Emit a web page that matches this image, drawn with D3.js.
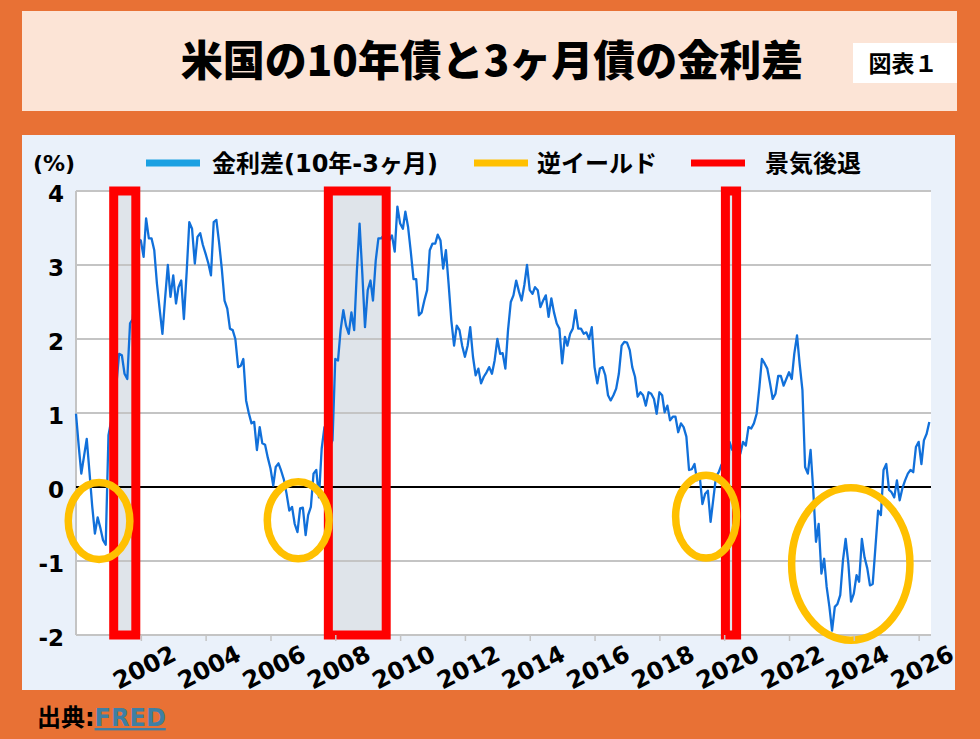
<!DOCTYPE html>
<html>
<head>
<meta charset="utf-8">
<script src="https://cdn.jsdelivr.net/npm/d3@7"></script>
<style>
body { margin: 0; background: #E87135; }
svg { display: block; }
</style>
</head>
<body>
<svg></svg>
<script>
const width = 980;
const height = 739;

// monthly spread 10Y - 3M (%), starting Jan 2000, one row per year
const startYear = 2000;
const spread = [
    0.99, 0.55, 0.18, 0.42, 0.65, 0.20, -0.25, -0.63, -0.41, -0.55, -0.72, -0.78,
    0.70, 0.90, 1.10, 1.40, 1.80, 1.78, 1.53, 1.46, 2.21, 2.27, 2.75, 3.35,
    3.33, 3.11, 3.63, 3.36, 3.36, 3.20, 2.75, 2.40, 2.07, 2.55, 3.00, 2.57,
    2.86, 2.48, 2.70, 2.79, 2.27, 2.90, 3.58, 3.49, 3.02, 3.38, 3.43, 3.27,
    3.15, 3.02, 2.86, 3.58, 3.61, 3.30, 2.95, 2.52, 2.41, 2.14, 2.12, 2.00,
    1.62, 1.64, 1.73, 1.17, 1.00, 0.86, 0.88, 0.50, 0.81, 0.59, 0.57, 0.40,
    0.25, 0.02, 0.27, 0.32, 0.22, 0.10, -0.09, -0.32, -0.27, -0.50, -0.61, -0.29,
    -0.28, -0.65, -0.38, -0.27, 0.18, 0.23, -0.14, 0.52, 0.81, 0.65, 0.55, 0.63,
    1.73, 1.71, 2.12, 2.39, 2.18, 2.07, 2.36, 2.12, 2.93, 3.56, 2.88, 2.16,
    2.66, 2.79, 2.52, 3.06, 3.36, 3.36, 3.40, 3.30, 3.33, 3.40, 3.18, 3.79,
    3.56, 3.49, 3.72, 3.51, 3.18, 2.81, 2.81, 2.32, 2.36, 2.52, 2.66, 3.20,
    3.29, 3.29, 3.41, 3.33, 2.95, 3.20, 2.75, 2.25, 1.91, 2.18, 2.12, 1.91,
    1.76, 1.91, 2.16, 1.76, 1.51, 1.60, 1.40, 1.49, 1.55, 1.62, 1.53, 1.71,
    2.00, 1.80, 1.81, 1.60, 2.12, 2.50, 2.59, 2.79, 2.64, 2.52, 2.73, 3.00,
    2.66, 2.61, 2.70, 2.66, 2.43, 2.52, 2.59, 2.30, 2.55, 2.36, 2.21, 2.14,
    1.67, 2.03, 1.91, 2.07, 2.14, 2.39, 2.14, 2.14, 2.07, 2.09, 2.00, 2.16,
    1.62, 1.40, 1.60, 1.62, 1.51, 1.24, 1.17, 1.24, 1.33, 1.53, 1.91, 1.96,
    1.95, 1.85, 1.62, 1.49, 1.22, 1.28, 1.24, 1.10, 1.28, 1.26, 1.19, 0.99,
    1.28, 1.24, 1.01, 1.10, 0.90, 0.95, 0.95, 0.74, 0.86, 0.81, 0.68, 0.23,
    0.24, 0.31, 0.09, 0.14, -0.23, -0.09, -0.05, -0.47, -0.16, 0.14, 0.20, 0.30,
    0.15, -0.18, 0.61, 0.50, 0.55, 0.55, 0.45, 0.61, 0.56, 0.81, 0.79, 0.86,
    0.99, 1.35, 1.73, 1.67, 1.60, 1.40, 1.19, 1.26, 1.50, 1.50, 1.37, 1.46,
    1.55, 1.46, 1.80, 2.05, 1.66, 1.31, 0.27, 0.18, 0.50, -0.05, -0.74, -0.50,
    -1.17, -0.97, -1.35, -1.62, -1.94, -1.62, -1.58, -1.46, -0.99, -0.70, -1.04, -1.55,
    -1.44, -1.19, -1.28, -0.70, -0.95, -1.10, -1.33, -1.31, -0.81, -0.32, -0.38, 0.23,
    0.31, -0.04, -0.07, -0.14, 0.09, -0.18, -0.02, 0.09, 0.18, 0.23, 0.20, 0.54,
    0.61, 0.31, 0.63, 0.72, 0.88
];

// recession bands as drawn [start, end]
const recessions = [
    ["2001-03-01", "2001-11-05"],
    ["2007-10-15", "2009-07-28"],
    ["2020-01-15", "2020-05-20"]
];

// inverted-yield circles: [from year, to year, top value, bottom value]
const inversions = [
    [1999.76, 2001.66, 0.06, -0.98],
    [2005.90, 2007.81, 0.07, -0.97],
    [2018.50, 2020.38, 0.16, -0.96],
    [2022.08, 2025.73, -0.01, -2.07]
];

const yTicks = [4, 3, 2, 1, 0, -1, -2];
const xTickYears = [2002, 2004, 2006, 2008, 2010, 2012, 2014, 2016, 2018, 2020, 2022, 2024, 2026];
const legendLabels = ["金利差(10年-3ヶ月)", "逆イールド", "景気後退"];
const legendColors = ["#1BA1E2", "#FFC000", "#FF0000"];

const jp = "'Noto Sans CJK JP', 'Noto Sans', sans-serif";
const mixed = "'DejaVu Sans', 'Noto Sans CJK JP', sans-serif";
const num = "'DejaVu Sans', sans-serif";

const plotLeft = 76, plotRight = 931, plotTop = 191, plotBottom = 635;

const yearToDate = y => {
    const base = new Date(Math.floor(y), 0, 1);
    return new Date(base.getTime() + (y - Math.floor(y)) * 365.25 * 864e5);
};

const series = spread.map((v, i) => ({ date: new Date(startYear, i, 1), value: v }));

const svg = d3.select("svg")
    .attr("width", width)
    .attr("height", height);

svg.append("rect").attr("width", width).attr("height", height).attr("fill", "#E87135");

// title box
svg.append("rect").attr("x", 22).attr("y", 11).attr("width", 935).attr("height", 100)
    .attr("fill", "#FCE4D6");
svg.append("rect").attr("x", 853).attr("y", 43).attr("width", 104).attr("height", 40)
    .attr("fill", "#ffffff");
svg.append("text")
    .attr("x", 492).attr("y", 76)
    .attr("text-anchor", "middle")
    .style("font-family", jp).style("font-weight", 900).style("font-size", "42px")
    .text("米国の10年債と3ヶ月債の金利差");
svg.append("text")
    .attr("x", 903).attr("y", 72)
    .attr("text-anchor", "middle")
    .style("font-family", jp).style("font-weight", 700).style("font-size", "23px")
    .text("図表１");

// chart panel
svg.append("rect").attr("x", 22).attr("y", 135).attr("width", 933).attr("height", 555)
    .attr("fill", "#EAF1FA");
svg.append("rect").attr("x", plotLeft).attr("y", plotTop)
    .attr("width", plotRight - plotLeft).attr("height", plotBottom - plotTop)
    .attr("fill", "#ffffff");

const xScale = d3.scaleTime()
    .domain([new Date(2000, 0, 1), new Date(2026, 4, 20)])
    .range([plotLeft, plotRight]);

const yScale = d3.scaleLinear()
    .domain([-2, 4])
    .range([plotBottom, plotTop]);

// recession fill
svg.selectAll(".rec-fill")
    .data(recessions)
    .enter()
    .append("rect")
    .attr("class", "rec-fill")
    .attr("x", d => xScale(new Date(d[0])))
    .attr("y", yScale(4))
    .attr("width", d => xScale(new Date(d[1])) - xScale(new Date(d[0])))
    .attr("height", yScale(-2) - yScale(4))
    .attr("fill", "#DFE4EA");

// gridlines
svg.selectAll(".grid")
    .data(yTicks.filter(d => d !== 0))
    .enter()
    .append("line")
    .attr("class", "grid")
    .attr("x1", plotLeft).attr("x2", plotRight)
    .attr("y1", d => yScale(d)).attr("y2", d => yScale(d))
    .attr("stroke", "#C4C4C4")
    .attr("stroke-width", 2);

svg.append("line")
    .attr("x1", plotLeft).attr("x2", plotLeft)
    .attr("y1", plotTop).attr("y2", plotBottom)
    .attr("stroke", "#C4C4C4").attr("stroke-width", 2);

svg.append("line")
    .attr("x1", plotLeft).attr("x2", plotRight)
    .attr("y1", yScale(0)).attr("y2", yScale(0))
    .attr("stroke", "#000000").attr("stroke-width", 2);

// spread line
const line = d3.line()
    .x(d => xScale(d.date))
    .y(d => yScale(d.value));

svg.append("path")
    .datum(series)
    .attr("d", line)
    .attr("fill", "none")
    .attr("stroke", "#1170DA")
    .attr("stroke-width", 2.3)
    .attr("stroke-linejoin", "round");

// recession outlines
svg.selectAll(".rec-box")
    .data(recessions)
    .enter()
    .append("rect")
    .attr("class", "rec-box")
    .attr("x", d => xScale(new Date(d[0])))
    .attr("y", yScale(4))
    .attr("width", d => xScale(new Date(d[1])) - xScale(new Date(d[0])))
    .attr("height", yScale(-2) - yScale(4))
    .attr("fill", "none")
    .attr("stroke", "#FF0000")
    .attr("stroke-width", 9);

// inversion ellipses
svg.selectAll(".inv")
    .data(inversions)
    .enter()
    .append("ellipse")
    .attr("class", "inv")
    .attr("cx", d => (xScale(yearToDate(d[0])) + xScale(yearToDate(d[1]))) / 2)
    .attr("cy", d => (yScale(d[2]) + yScale(d[3])) / 2)
    .attr("rx", d => (xScale(yearToDate(d[1])) - xScale(yearToDate(d[0]))) / 2)
    .attr("ry", d => (yScale(d[3]) - yScale(d[2])) / 2)
    .attr("fill", "none")
    .attr("stroke", "#FFC000")
    .attr("stroke-width", 7.5);

// y axis
const yAxis = d3.axisLeft(yScale).tickValues(yTicks).tickSize(0).tickPadding(12).tickFormat(d => d);
const yG = svg.append("g")
    .attr("transform", `translate(${plotLeft}, 0)`)
    .call(yAxis);
yG.select(".domain").remove();
yG.selectAll("text")
    .attr("dy", "0.45em")
    .style("font-family", num).style("font-weight", "bold").style("font-size", "23px")
    .attr("fill", "#000");

// x axis
const xAxis = d3.axisBottom(xScale)
    .tickValues(xTickYears.map(y => new Date(y, 0, 1)))
    .tickSize(6)
    .tickFormat(d3.timeFormat("%Y"));
const xG = svg.append("g")
    .attr("transform", `translate(0, ${plotBottom})`)
    .call(xAxis);
xG.select(".domain").remove();
xG.selectAll(".tick line").attr("stroke", "#C4C4C4").attr("stroke-width", 1.5);
xG.selectAll("text")
    .attr("x", 0).attr("y", 0).attr("dy", "0.35em")
    .attr("text-anchor", "middle")
    .attr("transform", "translate(3, 32) rotate(-27)")
    .style("font-family", num).style("font-weight", "bold").style("font-size", "24px")
    .attr("fill", "#000");

// legend
svg.append("text")
    .attr("x", 33).attr("y", 171)
    .style("font-family", num).style("font-weight", "bold").style("font-size", "22px")
    .text("(%)");

const legendLineX = [146, 474, 691];
const legendTextX = [212, 537, 765];
legendLabels.forEach((label, i) => {
    svg.append("line")
        .attr("x1", legendLineX[i]).attr("x2", legendLineX[i] + 54)
        .attr("y1", 163).attr("y2", 163)
        .attr("stroke", legendColors[i])
        .attr("stroke-width", 7);
    svg.append("text")
        .attr("x", legendTextX[i]).attr("y", 172)
        .style("font-family", mixed).style("font-weight", 700).style("font-size", "24px")
        .text(label);
});

// source
const src = svg.append("text")
    .attr("x", 37).attr("y", 726)
    .style("font-family", mixed).style("font-weight", 700).style("font-size", "24px");
src.append("tspan").attr("fill", "#000").text("出典:");
src.append("tspan").attr("fill", "#3F7FA3").style("text-decoration", "underline").text("FRED");
</script>
</body>
</html>
